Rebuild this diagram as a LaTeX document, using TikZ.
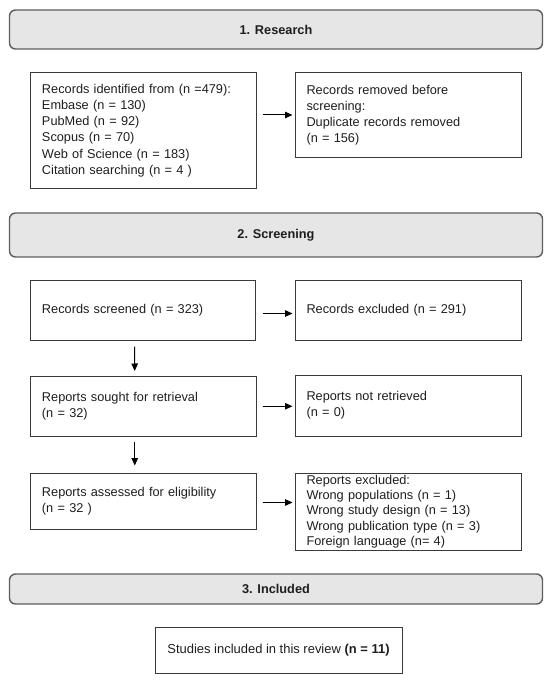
\documentclass[tikz,border=0pt]{standalone}
\usepackage{fontspec}
\setmainfont{Liberation Sans}
\usetikzlibrary{arrows.meta}
\definecolor{hdrfill}{HTML}{E6E6E6}
\definecolor{hdrline}{HTML}{5E5E5E}
\definecolor{boxline}{HTML}{3A3A3A}
\definecolor{txt}{HTML}{1E1E1E}
\begin{document}
\begin{tikzpicture}[x=1bp,y=-1bp,
  hdr/.style={draw=hdrline, fill=hdrfill, line width=1.4bp, rounded corners=6bp,
    minimum width=533bp, inner sep=0pt,
    font=\fontsize{12.8}{15}\selectfont\bfseries, text=txt},
  box/.style={draw=boxline, line width=1bp, inner xsep=11.5bp, inner ysep=0pt,
    align=left, font=\fontsize{12.8}{16.2}\selectfont, text=txt},
  arr/.style={-{Triangle[length=7.5bp,width=6.5bp]}, line width=1bp, draw=black}
]
\useasboundingbox (0,0) rectangle (550,682);
% headers
\node[hdr, minimum height=39bp] (h1) at (276,29.5) {1. Research};
\node[hdr, minimum height=44bp] (h2) at (276,235) {2. Screening};
\node[hdr, minimum height=30bp] (h3) at (276,589) {3. Included};
% research
\node[box, minimum width=225.5bp, minimum height=115bp, text width=202.5bp] (a) at (143.25,130.5)
  {Records identified from (n =479):\\Embase (n = 130)\\PubMed (n = 92)\\Scopus (n = 70)\\Web of Science (n = 183)\\Citation searching (n = 4 )};
\node[box, minimum width=226bp, minimum height=84bp, text width=203bp] (b) at (408,115)
  {Records removed before\\screening:\\Duplicate records removed\\(n = 156)};
% screening
\node[box, minimum width=225bp, minimum height=60bp, text width=202bp] (s) at (143,310)
  {Records screened (n = 323)};
\node[box, minimum width=226bp, minimum height=60bp, text width=203bp] (se) at (408,310)
  {Records excluded (n = 291)};
\node[box, minimum width=225.5bp, minimum height=59.5bp, text width=202.5bp] (r) at (143.25,406.25)
  {Reports sought for retrieval\\(n = 32)};
\node[box, minimum width=226bp, minimum height=61bp, text width=203bp] (rn) at (408,405.5)
  {Reports not retrieved\\(n = 0)};
\node[box, minimum width=225.5bp, minimum height=56bp, text width=202.5bp] (e) at (143.25,501)
  {Reports assessed for eligibility\\(n = 32 )};
\node[box, minimum width=226bp, minimum height=77bp, text width=203bp,
  font=\fontsize{12.8}{15.4}\selectfont] (ex) at (408,511.5)
  {Reports excluded:\\Wrong populations (n = 1)\\Wrong study design (n = 13)\\Wrong publication type (n = 3)\\Foreign language (n= 4)};
% included
\node[box, align=center, minimum width=247bp, minimum height=46bp, inner xsep=0pt,
  font=\fontsize{13}{16}\selectfont] (f) at (278.5,650)
  {Studies included in this review \textbf{(n = 11)}};
% arrows
\draw[arr, shorten <=6bp, shorten >=2bp] (a.east |- b.west) -- (b.west);
\draw[arr, shorten <=7bp, shorten >=2bp] ([yshift=-3.5bp]s.east) -- ([yshift=-3.5bp]se.west);
\draw[arr, shorten <=6bp, shorten >=2bp] (r.east) -- (rn.west |- r.east);
\draw[arr, shorten <=6bp, shorten >=2bp] ([yshift=-1.5bp]e.east) -- ([yshift=-1.5bp]ex.west |- e.east);
\draw[arr, shorten <=6bp, shorten >=5bp] ([xshift=-8.5bp]s.south) -- ([xshift=-8.5bp]r.north);
\draw[arr, shorten <=5bp, shorten >=7bp] ([xshift=-8.5bp]r.south) -- ([xshift=-8.5bp]e.north);
\end{tikzpicture}
\end{document}
